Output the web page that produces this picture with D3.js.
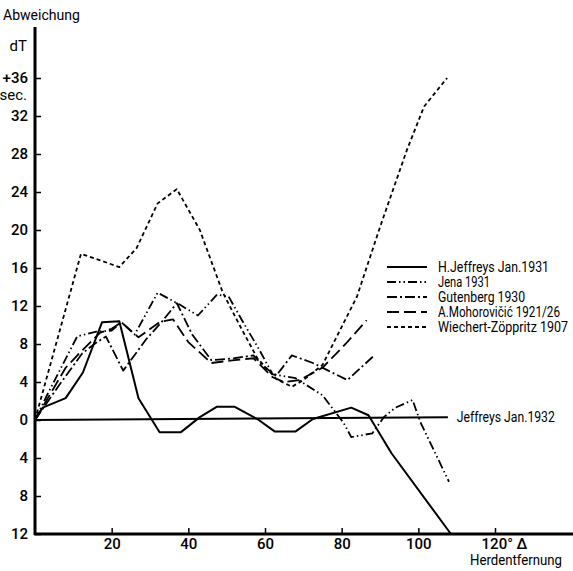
<!DOCTYPE html>
<html>
<head>
<meta charset="utf-8">
<script src="https://cdn.jsdelivr.net/npm/d3@7"></script>
<style>
  body { margin: 0; background: #fff; }
  svg text { font-family: "Roboto", "Liberation Sans", sans-serif; fill: #000; }
</style>
</head>
<body>
<div id="chart"></div>
<script>
// Distance in degrees, deviation dT in seconds
var jeffreys1931 = [[0,0],[2,1.3],[8,2.3],[12.5,5],[17.5,10.3],[22,10.4],[27,2.3],[32.5,-1.3],[38,-1.3],[43,0.3],[47.5,1.4],[52,1.4],[58,0.1],[62.5,-1.2],[68,-1.2],[72.5,0.1],[82.5,1.3],[87,0.5],[93,-3.5],[108.5,-12]];
var jena1931 = [[0,0],[3,2.5],[11,8.8],[16,9.3],[20,9.4],[22.5,10.3],[26,9],[32,13.4],[37.5,12.2],[42.5,11],[47.5,13.2],[50.5,13],[54,10.5],[58.5,7.4],[62,4.8],[68,4.4],[75,2.6],[80.5,-0.3],[82.5,-1.8],[88,-1.4],[91,0.3],[94,1.3],[98.5,2.1],[100.5,-0.2],[108,-6.5]];
var gutenberg1930 = [[0,0],[6,3.5],[12.3,7],[15.5,8],[18.5,8.8],[23,5.2],[29,8.5],[33,10.3],[37,12.3],[41,9],[46,6.3],[52,6.5],[57,6.8],[60,5.5],[63,4.7],[67,6.8],[72.5,6],[76,5.3],[81.5,4.2],[88.5,6.8]];
var mohorovicic = [[0,0],[8,5.5],[12,7.2],[17,9.2],[20,9.6],[22.5,10.3],[27,8.7],[32.5,10.3],[36,10.6],[40,8.2],[46,6],[52,6.3],[57,6.5],[62,4.5],[65,4],[69,4.2],[75,5.5],[81,8],[86.5,10.5]];
var wiechert1907 = [[0,0],[12,17.5],[22,16.1],[26.5,18.1],[32,22.8],[37,24.3],[43,20],[49,13.4],[54,9.5],[58,6.5],[63,4.3],[67,3.5],[70,4.2],[75,5.8],[79,9],[84,13],[90,20.3],[97,28.4],[101.5,33],[107.5,36]];
var jeffreys1932 = [[0,0],[107.7,0.3]];

var seriesNames = ["H.Jeffreys Jan.1931", "Jena 1931", "Gutenberg 1930", "A.Mohorovičić 1921/26", "Wiechert-Zöppritz 1907"];
var seriesDash = ["none", "9,3,1.5,3,1.5,3", "10,3,2,3", "12,5", "4,3"];
var yTicks = [36, 32, 28, 24, 20, 16, 12, 8, 4, 0, -4, -8, -12];
var xTicks = [20, 40, 60, 80, 100, 120];

// the original lettering is condensed: squeeze text to these widths
var legendWidths = [111, 52, 87, 122, 130];

var width = 573, height = 571;

var svg = d3.select("#chart").append("svg")
    .attr("width", width)
    .attr("height", height);

var x = d3.scaleLinear().domain([0, 120]).range([35, 495]);
var y = d3.scaleLinear().domain([-12, 36]).range([534, 78]);

// axes
var yAxis = d3.axisLeft(y)
    .tickValues(yTicks)
    .tickSizeInner(-6)
    .tickSizeOuter(0)
    .tickPadding(7)
    .tickFormat(function (d) { return d == 36 ? "+36" : Math.abs(d); });

var gy = svg.append("g").attr("transform", "translate(35,0)").call(yAxis);
gy.select(".domain").remove();
gy.selectAll(".tick line").attr("stroke", "#000").attr("stroke-width", 1.5);
gy.selectAll(".tick text").attr("font-size", 15).attr("font-weight", 500);

var xAxis = d3.axisBottom(x)
    .tickValues(xTicks)
    .tickSizeInner(-6)
    .tickSizeOuter(0)
    .tickPadding(4)
    .tickFormat(function (d) { return d == 120 ? "120° Δ" : d; });

var gx = svg.append("g").attr("transform", "translate(0,534)").call(xAxis);
gx.select(".domain").remove();
gx.selectAll(".tick line").attr("stroke", "#000").attr("stroke-width", 1.5);
gx.selectAll(".tick text").attr("font-size", 15).attr("font-weight", 500);
gx.selectAll(".tick text").filter(function (d) { return d == 120; }).attr("dx", "0.6em");

svg.append("line").attr("x1", 35).attr("x2", 35).attr("y1", 27).attr("y2", 535)
    .attr("stroke", "#000").attr("stroke-width", 3);
svg.append("line").attr("x1", 34).attr("x2", 573).attr("y1", 534).attr("y2", 534)
    .attr("stroke", "#000").attr("stroke-width", 3);

// axis titles
svg.append("text").attr("x", 3).attr("y", 20).attr("font-size", 15)
    .attr("textLength", 77).attr("lengthAdjust", "spacingAndGlyphs").text("Abweichung");
svg.append("text").attr("x", 27).attr("y", 51).attr("font-size", 15).attr("text-anchor", "end").text("dT");
svg.append("text").attr("x", 27).attr("y", 100).attr("font-size", 15).attr("text-anchor", "end").text("sec.");
svg.append("text").attr("x", 470).attr("y", 565).attr("font-size", 15)
    .attr("textLength", 92).attr("lengthAdjust", "spacingAndGlyphs").text("Herdentfernung");

// curves
var line = d3.line()
    .x(function (d) { return x(d[0]); })
    .y(function (d) { return y(d[1]); });

var allSeries = [jeffreys1931, jena1931, gutenberg1930, mohorovicic, wiechert1907];

svg.selectAll(".curve")
    .data(allSeries)
    .enter().append("path")
    .attr("class", "curve")
    .attr("d", line)
    .attr("fill", "none")
    .attr("stroke", "#000")
    .attr("stroke-width", function (d, i) { return i == 0 ? 2 : 1.8; })
    .attr("stroke-linejoin", "round")
    .attr("stroke-dasharray", function (d, i) { return seriesDash[i]; });

svg.append("path")
    .attr("d", line(jeffreys1932))
    .attr("fill", "none")
    .attr("stroke", "#000")
    .attr("stroke-width", 2);
svg.append("text")
    .attr("x", x(jeffreys1932[1][0]) + 9)
    .attr("y", y(jeffreys1932[1][1]) + 5)
    .attr("font-size", 14)
    .attr("textLength", 98)
    .attr("lengthAdjust", "spacingAndGlyphs")
    .text("Jeffreys Jan.1932");

// legend
var legend = svg.selectAll(".legend")
    .data(seriesNames)
    .enter().append("g")
    .attr("class", "legend")
    .attr("transform", function (d, i) { return "translate(387," + (267 + i * 15) + ")"; });

legend.append("line")
    .attr("x1", 0).attr("x2", 40)
    .attr("stroke", "#000")
    .attr("stroke-width", function (d, i) { return i == 0 ? 2 : 1.8; })
    .attr("stroke-dasharray", function (d, i) { return seriesDash[i]; });

legend.append("text")
    .attr("x", 51)
    .attr("dy", "0.35em")
    .attr("font-size", 14)
    .attr("textLength", function (d, i) { return legendWidths[i]; })
    .attr("lengthAdjust", "spacingAndGlyphs")
    .text(function (d) { return d; });
</script>
</body>
</html>
